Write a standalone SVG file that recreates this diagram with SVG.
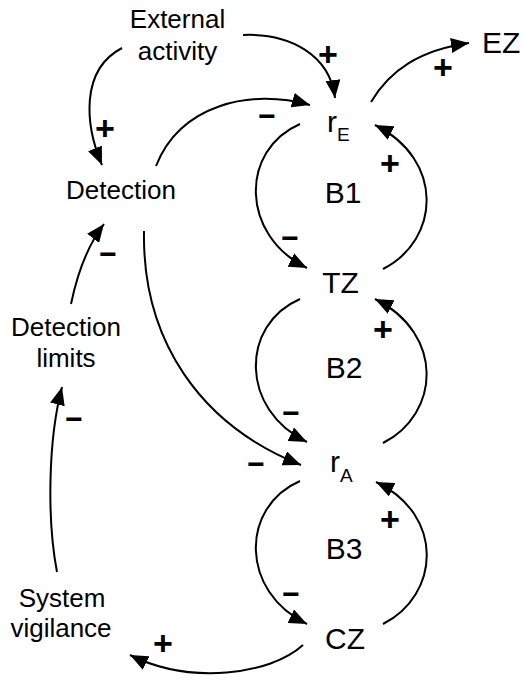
<svg xmlns="http://www.w3.org/2000/svg" width="523" height="680" viewBox="0 0 523 680">
<style>
text{font-family:"Liberation Sans",Arial,sans-serif;fill:#000}
.lbl{font-size:26px;text-anchor:middle}
.node{font-size:30px;text-anchor:middle}
.sub{font-size:19px}
.sign{font-size:30px;font-weight:bold;text-anchor:middle}
.plus{font-size:34px}
.c{fill:none;stroke:#000;stroke-width:2;marker-end:url(#ah)}
</style>
<defs>
<marker id="ah" markerUnits="userSpaceOnUse" markerWidth="19" markerHeight="15" refX="18" refY="7.5" orient="auto">
<path d="M0,0 L18,7.5 L0,15 z" fill="#000"/>
</marker>
</defs>
<rect width="523" height="680" fill="#fff"/>
<g id="connectors">
<path class="c" d="M243,35 C290,33 330,55 335,98"/>
<path class="c" d="M122,48 C80,70 85,125 102,165"/>
<path class="c" d="M156,166 C180,105 250,88 310,105"/>
<path class="c" d="M371,102 C390,70 420,50 469,43"/>
<path class="c" d="M300,124 C240,150 240,235 307,268"/>
<path class="c" d="M383,269 C440,240 445,160 375,125"/>
<path class="c" d="M300,299 C240,325 240,410 307,442"/>
<path class="c" d="M383,443 C440,414 445,334 375,299"/>
<path class="c" d="M144,231 C142,340 200,425 301,465"/>
<path class="c" d="M300,481 C240,507 240,592 307,624"/>
<path class="c" d="M383,624 C440,595 445,515 376,482"/>
<path class="c" d="M303,645 C270,675 190,685 130,655"/>
<path class="c" d="M57,572 C47,520 48,440 62,387"/>
<path class="c" d="M71,304 C78,270 88,245 104,224"/>
</g>
<g id="signs">
<text class="sign plus" x="328" y="66">+</text>
<text class="sign plus" x="105" y="140">+</text>
<text class="sign" x="267" y="126">−</text>
<text class="sign plus" x="443" y="79">+</text>
<text class="sign plus" x="390" y="175">+</text>
<text class="sign" x="290" y="248">−</text>
<text class="sign plus" x="383" y="341">+</text>
<text class="sign" x="291" y="423">−</text>
<text class="sign" x="256" y="474">−</text>
<text class="sign plus" x="390" y="531">+</text>
<text class="sign" x="291" y="604">−</text>
<text class="sign plus" x="163" y="655">+</text>
<text class="sign" x="74" y="429">−</text>
<text class="sign" x="108" y="264">−</text>
</g>
<g id="external-activity"><text class="lbl" x="177.5" y="28">External</text><text class="lbl" x="177.5" y="60">activity</text></g>
<g id="detection"><text class="lbl" x="121" y="199">Detection</text></g>
<g id="detection-limits"><text class="lbl" x="66" y="336">Detection</text><text class="lbl" x="66" y="367">limits</text></g>
<g id="system-vigilance"><text class="lbl" x="62" y="607">System</text><text class="lbl" x="61" y="637">vigilance</text></g>
<g id="rE"><text class="node" x="327" y="131.5" style="text-anchor:start">r<tspan class="sub" dy="9">E</tspan></text></g>
<g id="EZ"><text class="node" x="482" y="53" style="text-anchor:start">EZ</text></g>
<g id="B1"><text class="node" x="343" y="202.5">B1</text></g>
<g id="TZ"><text class="node" x="340.5" y="293">TZ</text></g>
<g id="B2"><text class="node" x="344" y="377.5">B2</text></g>
<g id="rA"><text class="node" x="330" y="471.5" style="text-anchor:start">r<tspan class="sub" dy="10">A</tspan></text></g>
<g id="B3"><text class="node" x="344" y="559">B3</text></g>
<g id="CZ"><text class="node" x="345" y="649">CZ</text></g>
</svg>
